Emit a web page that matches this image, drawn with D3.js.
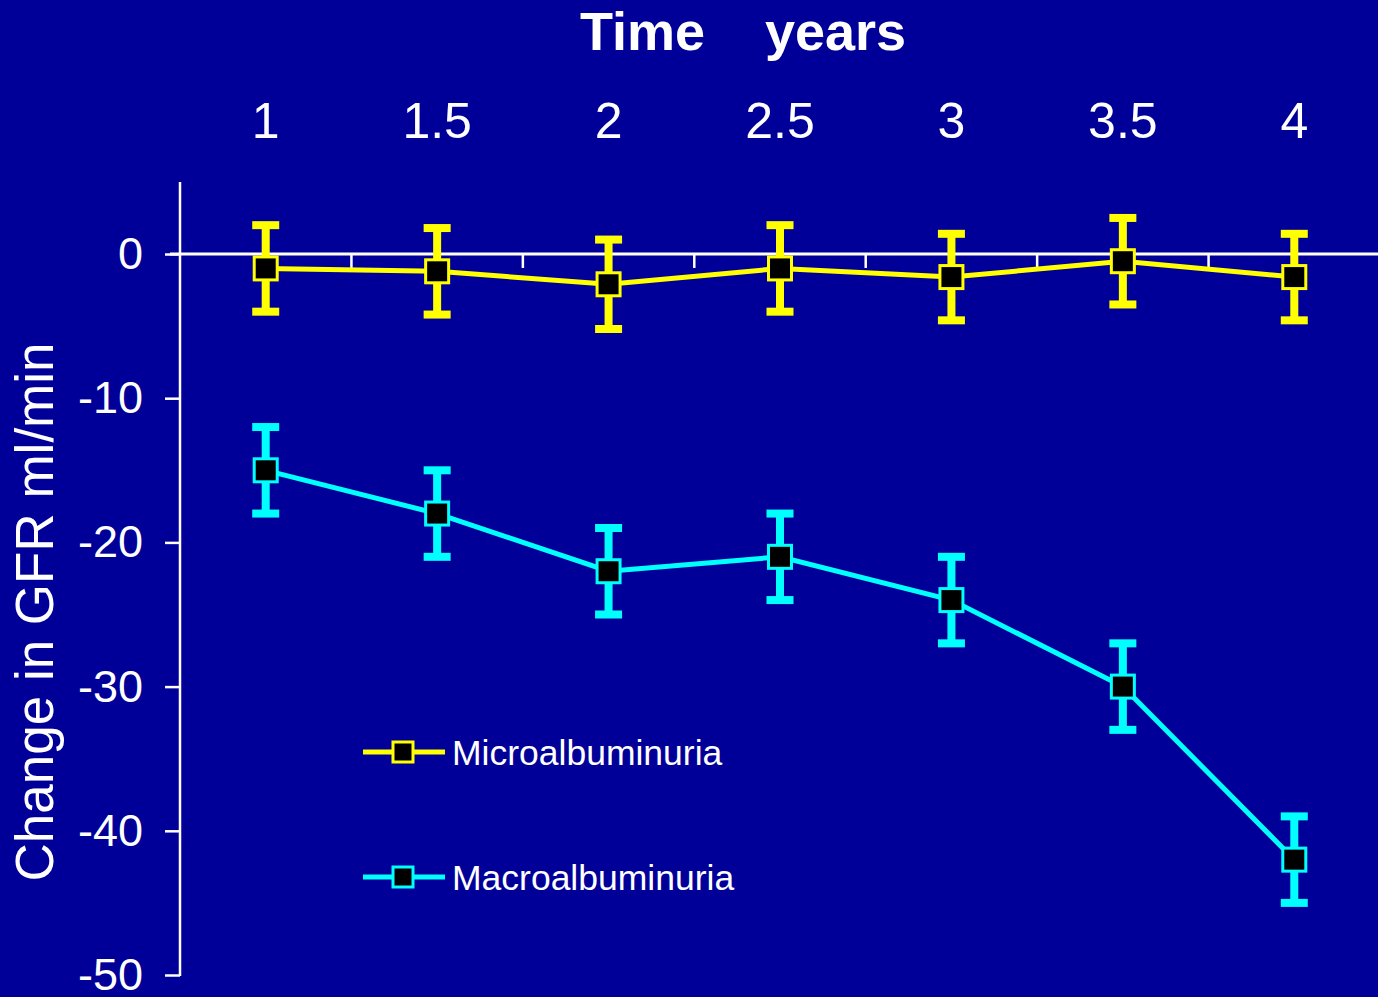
<!DOCTYPE html>
<html>
<head>
<meta charset="utf-8">
<script src="https://cdn.jsdelivr.net/npm/d3@7"></script>
<style>
  html, body { margin: 0; padding: 0; background: #000099; }
  svg { display: block; }
  text { font-family: "Liberation Sans", Arial, sans-serif; fill: #ffffff; }
</style>
</head>
<body>
<svg id="chart" width="1378" height="997"></svg>
<script>
// Years of follow-up
const years = ["1", "1.5", "2", "2.5", "3", "3.5", "4"];
// Mean change in GFR (ml/min) and error half-widths
const microValues = [-1, -1.2, -2.1, -1, -1.6, -0.5, -1.6];
const microErrors = [3, 3, 3.1, 3, 3, 3, 3];
const macroValues = [-15, -18, -22, -21, -24, -30, -42];
const macroErrors = [3, 3, 3, 3, 3, 3, 3];
const yTicks = [0, -10, -20, -30, -40, -50];
const seriesNames = ["Microalbuminuria", "Macroalbuminuria"];

const W = 1378, H = 997;
const svg = d3.select("#chart");
svg.append("rect").attr("width", W).attr("height", H).attr("fill", "#000099");

const x = d3.scaleBand().domain(years).range([180, 1380]);
const y = d3.scaleLinear().domain([-50, 0]).range([975, 254]);
const cx = d => x(d) + x.bandwidth() / 2;

// Title
svg.append("text")
  .attr("x", 743).attr("y", 50)
  .attr("text-anchor", "middle")
  .attr("font-size", 54).attr("font-weight", "bold")
  .attr("xml:space", "preserve")
  .style("white-space", "pre")
  .text("Time    years");

// Year labels along the top
svg.append("g").selectAll("text").data(years).join("text")
  .attr("x", d => cx(d)).attr("y", 138)
  .attr("text-anchor", "middle")
  .attr("font-size", 50)
  .text(d => d);

// Y axis
const yAxis = svg.append("g").attr("transform", "translate(180,0)")
  .call(d3.axisLeft(y).tickValues(yTicks).tickSize(15).tickPadding(22).tickFormat(d => String(d)));
yAxis.select(".domain").remove();
yAxis.selectAll(".tick line").attr("stroke", "#ffffff").attr("stroke-width", 2.5);
yAxis.selectAll(".tick text").attr("font-size", 45).attr("fill", "#ffffff")
  .attr("font-family", "Liberation Sans, Arial, sans-serif");
svg.append("line")
  .attr("x1", 180).attr("x2", 180).attr("y1", 182).attr("y2", y(-50) + 1)
  .attr("stroke", "#ffffff").attr("stroke-width", 2.5);

// Zero line with band separators
svg.append("line")
  .attr("x1", 170).attr("x2", W).attr("y1", y(0)).attr("y2", y(0))
  .attr("stroke", "#ffffff").attr("stroke-width", 3);
svg.append("g").selectAll("line").data(years.slice(1)).join("line")
  .attr("x1", d => x(d)).attr("x2", d => x(d))
  .attr("y1", y(0)).attr("y2", y(0) + 14)
  .attr("stroke", "#ffffff").attr("stroke-width", 2.5);

// Y axis title
svg.append("text")
  .attr("transform", `translate(53,${612}) rotate(-90)`)
  .attr("text-anchor", "middle")
  .attr("font-size", 53)
  .text("Change in GFR ml/min");

function drawSeries(values, errors, color) {
  const g = svg.append("g");
  const pts = years.map((d, i) => ({ yr: d, v: values[i], e: errors[i] }));
  g.append("path")
    .datum(pts)
    .attr("fill", "none").attr("stroke", color).attr("stroke-width", 5)
    .attr("d", d3.line().x(p => cx(p.yr)).y(p => y(p.v)));
  const eb = g.selectAll(".eb").data(pts).join("g");
  eb.append("line")
    .attr("x1", p => cx(p.yr)).attr("x2", p => cx(p.yr))
    .attr("y1", p => y(p.v + p.e)).attr("y2", p => y(p.v - p.e))
    .attr("stroke", color).attr("stroke-width", 8);
  [1, -1].forEach(s => {
    eb.append("line")
      .attr("x1", p => cx(p.yr) - 13.5).attr("x2", p => cx(p.yr) + 13.5)
      .attr("y1", p => y(p.v + s * p.e)).attr("y2", p => y(p.v + s * p.e))
      .attr("stroke", color).attr("stroke-width", 8);
  });
  eb.append("rect")
    .attr("x", p => cx(p.yr) - 11.5).attr("y", p => y(p.v) - 11.5)
    .attr("width", 23).attr("height", 23)
    .attr("fill", "#000000").attr("stroke", color).attr("stroke-width", 3);
}
drawSeries(microValues, microErrors, "#ffff00");
drawSeries(macroValues, macroErrors, "#00ffff");

// Legend
const legend = svg.append("g");
const legendColors = ["#ffff00", "#00ffff"];
seriesNames.forEach((name, i) => {
  const ly = 752 + i * 125;
  legend.append("line").attr("x1", 363).attr("x2", 445).attr("y1", ly).attr("y2", ly)
    .attr("stroke", legendColors[i]).attr("stroke-width", 5);
  legend.append("rect").attr("x", 393).attr("y", ly - 10).attr("width", 20).attr("height", 20)
    .attr("fill", "#000000").attr("stroke", legendColors[i]).attr("stroke-width", 3);
  legend.append("text").attr("x", 452).attr("y", ly + 13)
    .attr("font-size", 35.5).text(name);
});
</script>
</body>
</html>
